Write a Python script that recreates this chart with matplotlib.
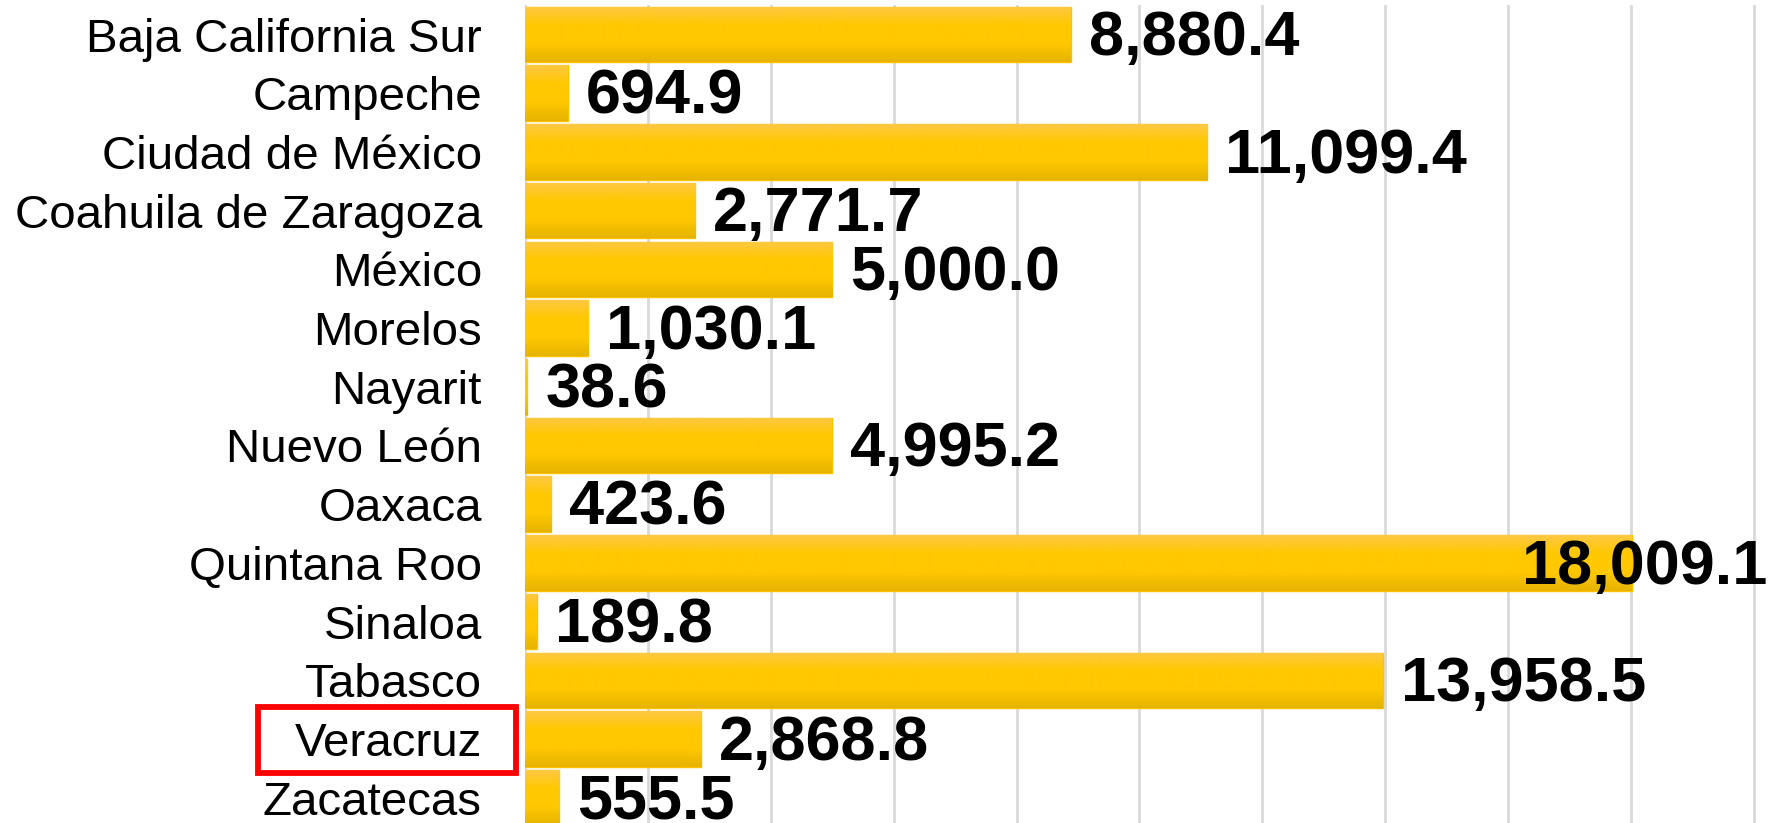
import numpy as np
import matplotlib.pyplot as plt
from matplotlib.colors import LinearSegmentedColormap
from matplotlib.patches import Rectangle

plt.rcParams['font.family'] = ['Liberation Sans', 'DejaVu Sans']

# Data
states = ['Baja California Sur', 'Campeche', 'Ciudad de México',
          'Coahuila de Zaragoza', 'México', 'Morelos', 'Nayarit',
          'Nuevo León', 'Oaxaca', 'Quintana Roo', 'Sinaloa', 'Tabasco',
          'Veracruz', 'Zacatecas']
values = [8880.4, 694.9, 11099.4, 2771.7, 5000.0, 1030.1, 38.6,
          4995.2, 423.6, 18009.1, 189.8, 13958.5, 2868.8, 555.5]
highlight = 'Veracruz'

W, H, DPI = 1781, 823, 100
fig = plt.figure(figsize=(W / DPI, H / DPI), dpi=DPI, facecolor='white')
ax = fig.add_axes([525 / W, 0, 1 - 525 / W, (H - 5) / H])

y = np.arange(len(states))
bars = ax.barh(y, values, height=0.947, color='#FFC800',
               edgecolor='#FFC000', linewidth=1, zorder=2)

# light gradient fill on every bar (lighter top, darker bottom)
grad = LinearSegmentedColormap.from_list(
    'gold', ['#FFC843', '#FFC800', '#FFC800', '#E6B400'])
img = np.linspace(0, 1, 64).reshape(-1, 1)
for b in bars:
    x0, y0 = b.get_x(), b.get_y()
    im = ax.imshow(img, cmap=grad, aspect='auto', zorder=2.5,
                   extent=(x0, x0 + b.get_width(), y0 + b.get_height(), y0),
                   interpolation='bilinear')
    im.set_clip_path(b)

ax.set_xlim(0, 20440)
ax.set_ylim(13.43, -0.503)
ax.set_xticks(np.arange(0, 20001, 2000))
ax.set_xticklabels([])
ax.tick_params(axis='x', length=0)
ax.set_yticks(y)
ax.set_yticklabels(states, fontsize=34.2, color='black')
ax.tick_params(axis='y', length=0, pad=31)
ax.grid(axis='x', color='#D9D9D9', linewidth=2, zorder=0)
ax.set_axisbelow(True)
for s in ax.spines.values():
    s.set_visible(False)

labels = []
for yi, v in zip(y, values):
    t = ax.annotate(f'{v:,.1f}', xy=(v, yi), xytext=(13, -3),
                    textcoords='offset points', ha='left', va='center',
                    fontsize=45.4, fontweight='bold', color='black',
                    zorder=4)
    labels.append((t, yi))

fig.canvas.draw()
renderer = fig.canvas.get_renderer()
# labels that run past the plot edge are pulled back inside (as Excel does)
for t, yi in labels:
    bb = t.get_window_extent(renderer)
    if bb.x1 > W - 10:
        t.xy = (ax.get_xlim()[1], yi)
        t.set_position((-10, -3))
        t.set_ha('right')

# red frame around the highlighted category label
for lab in ax.get_yticklabels():
    if lab.get_text() == highlight:
        bb = lab.get_window_extent(renderer)
        cy = (bb.y0 + bb.y1) / 2 + 4
        rect = Rectangle((bb.x0 - 37, cy - 33), bb.width + 71, 66,
                         transform=None, fill=False, edgecolor='#FF0000',
                         linewidth=4.2, clip_on=False)
        fig.patches.append(rect)

fig.savefig('out.png', dpi=DPI)
